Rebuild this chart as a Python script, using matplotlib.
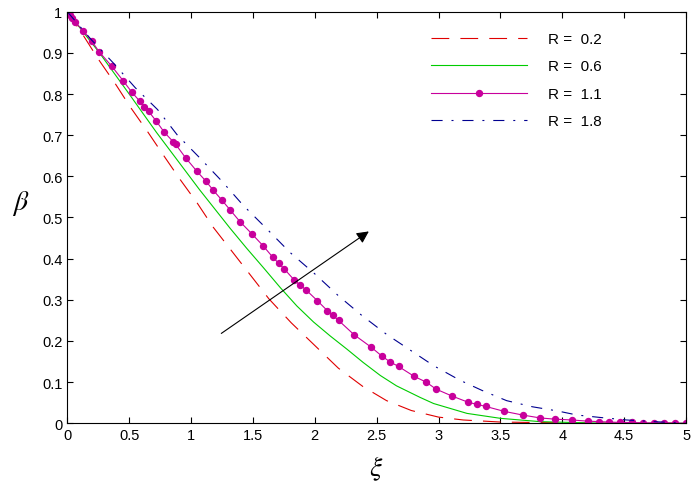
import matplotlib
matplotlib.use("Agg")
import matplotlib.pyplot as plt
from matplotlib.ticker import FormatStrFormatter

plt.rcParams['font.family'] = ['Liberation Sans', 'DejaVu Sans']
plt.rcParams['mathtext.fontset'] = 'stix'

# R = 0.2
x_r02 = [0, 0.13, 0.25, 0.39, 0.51, 0.65, 0.78, 0.91, 1.05, 1.18, 1.33, 1.48, 1.63,
         1.81, 2.0, 2.19, 2.39, 2.58, 2.78, 3.0, 3.2, 3.5, 4.0, 4.5, 5.0]
y_r02 = [1, 0.942, 0.885, 0.824, 0.768, 0.708, 0.650, 0.593, 0.535, 0.476, 0.418, 0.36, 0.302,
         0.244, 0.189, 0.134, 0.089, 0.055, 0.031, 0.015, 0.008, 0.003, 0.001, 0, 0]

# R = 0.6
x_r06 = [0, 0.26, 0.5, 0.72, 0.9, 1.07, 1.315, 1.45, 1.585, 1.72, 1.855, 1.99, 2.125, 2.26,
         2.39, 2.53, 2.66, 2.85, 2.96, 3.23, 3.5, 3.82, 4.2, 4.6, 5.0]
y_r06 = [1, 0.90, 0.80, 0.707, 0.635, 0.567, 0.474, 0.425, 0.378, 0.33, 0.285, 0.246, 0.212, 0.18,
         0.148, 0.116, 0.091, 0.063, 0.048, 0.024, 0.012, 0.004, 0.001, 0, 0]

# R = 1.1 (solver mesh points, shown as markers)
x_r11 = [0, 0.02, 0.04, 0.06, 0.13, 0.197, 0.256, 0.358, 0.452, 0.52, 0.587, 0.622, 0.657,
         0.719, 0.784, 0.856, 0.875, 0.956, 1.048, 1.118, 1.18, 1.247, 1.314, 1.395, 1.489,
         1.583, 1.659, 1.707, 1.753, 1.834, 1.88, 1.926, 2.02, 2.10, 2.146, 2.192, 2.318,
         2.455, 2.539, 2.609, 2.677, 2.803, 2.90, 2.98, 3.11, 3.24, 3.31, 3.38, 3.53, 3.68,
         3.82, 3.94, 4.08, 4.21, 4.30, 4.38, 4.47, 4.56, 4.65, 4.74, 4.82, 4.91, 5.0]
y_r11 = [1, 0.993, 0.985, 0.976, 0.953, 0.929, 0.903, 0.868, 0.832, 0.805, 0.782, 0.769, 0.758,
         0.734, 0.707, 0.684, 0.678, 0.645, 0.612, 0.589, 0.566, 0.543, 0.519, 0.49, 0.461,
         0.431, 0.404, 0.389, 0.375, 0.348, 0.336, 0.325, 0.298, 0.274, 0.262, 0.25, 0.215,
         0.185, 0.164, 0.149, 0.138, 0.114, 0.10, 0.083, 0.066, 0.051, 0.046, 0.041, 0.029, 0.02,
         0.013, 0.01, 0.008, 0.005, 0.004, 0.003, 0.002, 0.002, 0.001, 0.001, 0.001, 0.0005, 0]

# R = 1.8
x_r18 = [0, 0.2, 0.37, 0.55, 0.73, 0.89, 1.07, 1.25, 1.42, 1.61, 1.80, 2.0, 2.19, 2.38, 2.58,
         2.77, 2.96, 3.17, 3.35, 3.55, 3.76, 3.96, 4.12, 4.31, 4.52, 4.74, 5.0]
y_r18 = [1, 0.93, 0.876, 0.815, 0.762, 0.70, 0.645, 0.588, 0.53, 0.473, 0.415, 0.363, 0.31, 0.262, 0.216,
         0.178, 0.14, 0.105, 0.08, 0.055, 0.04, 0.03, 0.02, 0.014, 0.008, 0.004, 0.0]

labels = ['R =  0.2', 'R =  0.6', 'R =  1.1', 'R =  1.8']

fig = plt.figure(figsize=(6.96, 4.85), dpi=100)
ax = fig.add_axes([0.0967, 0.1252, 0.889, 0.8486])

ax.plot(x_r02, y_r02, color='#e00000', lw=0.8, dashes=(16, 10), label=labels[0])
ax.plot(x_r06, y_r06, color='#00cc00', lw=0.8, label=labels[1])
ax.plot(x_r11, y_r11, color='#c8009c', lw=0.8, marker='o', markersize=4.3, label=labels[2])
ax.plot(x_r18, y_r18, color='#000090', lw=0.8, dashes=(10, 8, 1.8, 8), label=labels[3])

ax.annotate('', xy=(2.455, 0.47), xytext=(1.226, 0.2145),
            arrowprops=dict(arrowstyle='-|>', color='black', lw=0.8, mutation_scale=18))

ax.set_xlim(0, 5)
ax.set_ylim(0, 1)
ax.set_xticks([0, 0.5, 1, 1.5, 2, 2.5, 3, 3.5, 4, 4.5, 5])
ax.set_yticks([0, 0.1, 0.2, 0.3, 0.4, 0.5, 0.6, 0.7, 0.8, 0.9, 1])
ax.xaxis.set_major_formatter(FormatStrFormatter('%g'))
ax.yaxis.set_major_formatter(FormatStrFormatter('%g'))
ax.tick_params(direction='in', top=True, right=True, labelsize=10.5, length=4, width=0.8)
for s in ax.spines.values():
    s.set_linewidth(0.8)

ax.set_xlabel(r'$\xi$', fontsize=20, labelpad=8)
ax.set_ylabel(r'$\beta$', fontsize=20, rotation=0)
ax.yaxis.set_label_coords(-0.075, 0.5)

ax.legend(loc='upper left', bbox_to_anchor=(0.619, 0.932), bbox_transform=fig.transFigure,
          frameon=False, fontsize=11, handlelength=6.3, handletextpad=1.4,
          labelspacing=0.88, borderpad=0, borderaxespad=0)

fig.savefig('out.png', dpi=100)
